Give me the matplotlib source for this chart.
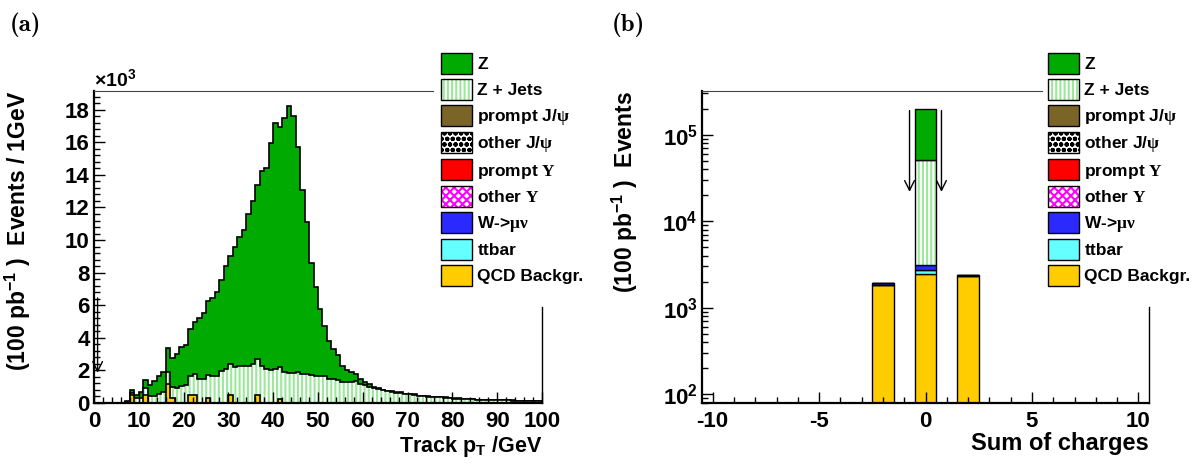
import numpy as np
import matplotlib
matplotlib.use('Agg')
import matplotlib.pyplot as plt
from matplotlib.patches import Patch
from matplotlib.ticker import MultipleLocator, LogLocator, NullFormatter

plt.rcParams['font.family'] = ['Liberation Sans', 'DejaVu Sans']
plt.rcParams['font.weight'] = 'bold'
plt.rcParams['axes.labelweight'] = 'bold'
plt.rcParams['axes.unicode_minus'] = False
plt.rcParams['mathtext.fontset'] = 'custom'
plt.rcParams['mathtext.rm'] = 'Liberation Serif'
plt.rcParams['mathtext.bf'] = 'Liberation Sans:bold'
plt.rcParams['mathtext.it'] = 'Liberation Sans:bold'
plt.rcParams['hatch.linewidth'] = 1.5

# --- (a) track pT, 1 GeV bins from 0 to 100, in units of 10^3 events ---
qcd_bins = [8, 11, 16, 17, 21, 22, 25, 30, 36, 41]
qcd_vals = [0.47, 0.47, 1.18, 0.30, 0.47, 0.47, 0.30, 0.47, 0.47, 0.25]

zjets = [0, 0, 0, 0, 0, 0, 0, 0.08, 0.13, 0.30,
         0.28, 0.43, 0.40, 0.42, 0.57, 0.65, 0.72, 0.68, 0.92, 1.06,
         1.10, 1.16, 1.31, 1.45, 1.45, 1.42, 1.68, 1.68, 1.94, 2.08,
         1.91, 2.23, 2.25, 2.27, 2.28, 2.40, 2.21, 2.25, 2.06, 2.03,
         2.06, 1.95, 1.88, 1.82, 1.82, 1.88, 1.78, 1.78, 1.72, 1.67,
         1.67, 1.65, 1.50, 1.50, 1.43, 1.31, 1.30, 1.30, 1.33, 1.18,
         1.10, 0.96, 0.90, 0.86, 0.78, 0.72, 0.69, 0.64, 0.63, 0.55,
         0.55, 0.51, 0.44, 0.43, 0.39, 0.37, 0.36, 0.35, 0.33, 0.31,
         0.27, 0.27, 0.24, 0.24, 0.23, 0.20, 0.19, 0.19, 0.18, 0.19,
         0.19, 0.18, 0.18, 0.15, 0.14, 0.14, 0.13, 0.12, 0.11, 0.10]

z = [0, 0, 0, 0, 0, 0, 0, 0.02, 0.18, 0.20,
     0.37, 0.50, 0.72, 0.91, 1.10, 1.23, 1.47, 1.78, 2.10, 2.35,
     2.48, 2.93, 3.17, 3.75, 4.05, 4.51, 4.74, 5.12, 5.63, 6.32,
     6.66, 7.37, 7.95, 8.33, 9.32, 10.00, 10.72, 12.00, 12.34, 13.92,
     15.14, 14.75, 15.62, 16.42, 15.78, 13.82, 11.32, 9.32, 6.88, 5.43,
     4.10, 3.05, 2.28, 1.81, 1.51, 0.94, 0.74, 0.58, 0.43, 0.31,
     0.17, 0.22, 0.10, 0.07, 0.04, 0.02, 0.03, 0.02, 0.03, 0.02,
     0.02, 0.02, 0.01, 0.02, 0.01, 0.01, 0.01, 0.01, 0.01, 0.01,
     0.01, 0.01, 0.01, 0.01, 0.01, 0.01, 0.01, 0.01, 0.01, 0.01,
     0.01, 0.01, 0.01, 0.01, 0.01, 0.01, 0.01, 0.01, 0.01, 0.01]

# --- (b) sum of charges ---
charges = [-2, 0, 2]
qcd_q = [1830, 2430, 2300]
ttbar_q = [0, 290, 0]
w_q = [110, 380, 80]
zjets_q = [0, 48400, 0]
z_q = [0, 148000, 0]

labels = ['Z', 'Z + Jets', r'prompt J/$\mathrm{\psi}$', r'other J/$\mathrm{\psi}$',
          r'prompt $\mathrm{\Upsilon}$', r'other $\mathrm{\Upsilon}$',
          r'W->$\mathrm{\mu\nu}$', 'ttbar', 'QCD Backgr.']

c_z = '#00aa00'
c_zj = '#9be89b'
c_jpsi = '#7a6428'
c_ups = '#ff0000'
c_oups = '#ff00ff'
c_w = '#2a2aff'
c_tt = '#66ffff'
c_qcd = '#ffcc00'

fig = plt.figure(figsize=(12.04, 4.66), dpi=100)
ax1 = fig.add_axes([94/1204, 63/466, 448/1204, 312/466])
ax2 = fig.add_axes([702/1204, 63/466, 447/1204, 312/466])

# ---------- panel (a) ----------
edges = np.arange(0, 101)
qcd = np.zeros(100)
qcd[qcd_bins] = qcd_vals
cum_zj = qcd + np.array(zjets)
cum_tot = cum_zj + np.array(z)

ax1.stairs(cum_tot, edges, fill=True, facecolor=c_z, linewidth=0)
ax1.stairs(cum_tot, edges, color='black', linewidth=1.2)
ax1.stairs(cum_zj, edges, fill=True, facecolor='white', edgecolor=c_zj,
           hatch='||||', linewidth=0)
ax1.stairs(cum_zj, edges, color='black', linewidth=1.2)
ax1.stairs(qcd, edges, fill=True, facecolor=c_qcd, linewidth=0)
ax1.stairs(qcd, edges, color='black', linewidth=1.2)

ax1.annotate('', xy=(0.8, 1.85), xytext=(0.8, 6.45),
             arrowprops=dict(arrowstyle='->,head_length=0.7,head_width=0.35',
                             lw=1, color='black', shrinkA=0, shrinkB=0))

ax1.set_xlim(0, 100)
ax1.set_ylim(0, 19.15)
ax1.xaxis.set_major_locator(MultipleLocator(10))
ax1.xaxis.set_minor_locator(MultipleLocator(2))
ax1.yaxis.set_major_locator(MultipleLocator(2))
ax1.yaxis.set_minor_locator(MultipleLocator(0.4))
ax1.text(0, 1.003, r'×10$^{\mathbf{3}}$', transform=ax1.transAxes,
         fontsize=14, ha='left', va='bottom')
ax1.set_xlabel(r'Track p$_{\mathbf{T}}$ /GeV', loc='right', fontsize=15.5, labelpad=1)
ax1.set_ylabel(r'(100 pb$^{\mathbf{-1}}$ )  Events / 1GeV', loc='top', fontsize=16.5)
ax1.yaxis.set_label_coords(-0.136, 1.0)
ax1.spines['top'].set_bounds(0, 75.7)
ax1.spines['right'].set_bounds(0, 5.9)

# ---------- panel (b) ----------
x = np.array(charges)
layers = [(qcd_q, c_qcd, None, None), (ttbar_q, c_tt, None, None),
          (w_q, c_w, None, None), (zjets_q, 'white', c_zj, '||||'),
          (z_q, c_z, None, None)]
bottom = np.zeros(3)
for vals, fc, hc, hatch in layers:
    vals = np.array(vals, dtype=float)
    if hatch:
        ax2.bar(x, vals, width=1, bottom=bottom, color=fc, edgecolor=hc,
                hatch=hatch, linewidth=0)
        ax2.bar(x, vals, width=1, bottom=bottom, fill=False,
                edgecolor='black', linewidth=1)
    else:
        ax2.bar(x, vals, width=1, bottom=bottom, color=fc,
                edgecolor='black', linewidth=1)
    bottom = bottom + vals

for xa in (-0.75, 0.75):
    ax2.annotate('', xy=(xa, 2.18e4), xytext=(xa, 1.9e5),
                 arrowprops=dict(arrowstyle='->,head_length=0.7,head_width=0.35',
                                 lw=1, color='black', shrinkA=0, shrinkB=0))

ax2.set_yscale('log')
ax2.set_xlim(-10.5, 10.5)
ax2.set_ylim(79, 3.2e5)
ax2.xaxis.set_major_locator(MultipleLocator(5))
ax2.xaxis.set_minor_locator(MultipleLocator(1))
ax2.yaxis.set_major_locator(LogLocator(base=10))
ax2.yaxis.set_minor_locator(LogLocator(base=10, subs=np.arange(2, 10)))
ax2.yaxis.set_minor_formatter(NullFormatter())
ax2.set_xlabel('Sum of charges', loc='right', fontsize=17, labelpad=0)
ax2.set_ylabel(r'(100 pb$^{\mathbf{-1}}$ )  Events', loc='top', fontsize=16.5)
ax2.yaxis.set_label_coords(-0.139, 1.0)
ax2.spines['top'].set_bounds(-10.5, 5.45)
ax2.spines['right'].set_bounds(79, 1030)

for ax in (ax1, ax2):
    ax.tick_params(which='both', direction='in', top=False, right=False,
                   labelsize=16, width=1)
    ax.tick_params(which='major', length=8)
    ax.tick_params(axis='x', which='major', pad=6)
    ax.tick_params(axis='y', which='major', pad=3)
    ax.tick_params(which='minor', length=4)
    ax.spines['bottom'].set_linewidth(1.6)
    ax.spines['left'].set_linewidth(1.6)
    ax.spines['top'].set_linewidth(0.8)
    ax.spines['right'].set_linewidth(1.0)
    ax.spines['top'].set_color('#444444')

    border = Patch(facecolor='none', edgecolor='black', linewidth=1)
    handles = [
        Patch(facecolor=c_z, edgecolor='black', linewidth=1),
        (Patch(facecolor='white', edgecolor=c_zj, hatch='||||', linewidth=0), border),
        Patch(facecolor=c_jpsi, edgecolor='black', linewidth=1),
        Patch(facecolor='white', edgecolor='black', hatch='ooo', linewidth=1),
        Patch(facecolor=c_ups, edgecolor='black', linewidth=1),
        (Patch(facecolor='white', edgecolor=c_oups, hatch='xxxx', linewidth=0), border),
        Patch(facecolor=c_w, edgecolor='black', linewidth=1),
        Patch(facecolor=c_tt, edgecolor='black', linewidth=1),
        Patch(facecolor=c_qcd, edgecolor='black', linewidth=1),
    ]
    x0 = ax.get_position().x1 - 101/1204
    ax.legend(handles, labels, loc='upper left', bbox_to_anchor=(x0, 1 - 53/466),
              bbox_transform=fig.transFigure, frameon=False, fontsize=12.5,
              handlelength=1.79, handleheight=1.47, labelspacing=0.295,
              handletextpad=0.3, borderpad=0, borderaxespad=0)

fig.text(10/1204, 1 - 25/466, '(a)', family='cmb10', fontsize=18, va='center')
fig.text(612/1204, 1 - 25/466, '(b)', family='cmb10', fontsize=18, va='center')

fig.savefig('out.png', dpi=100)
